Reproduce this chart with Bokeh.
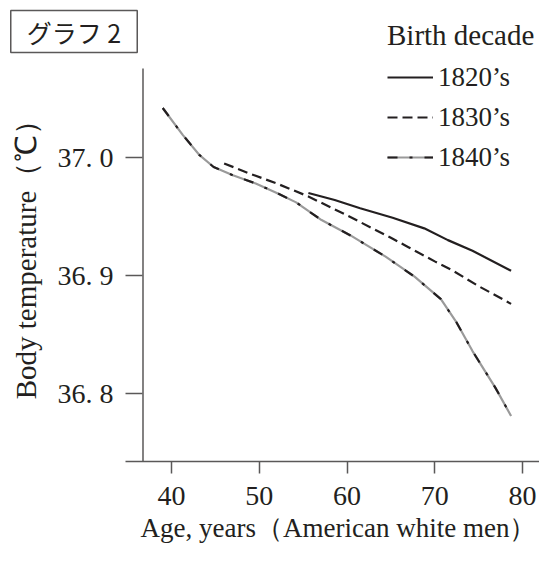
import math
from bokeh.plotting import figure
from bokeh.models import Label, Legend, LegendItem, FixedTicker, Range1d
from bokeh.embed import file_html
from bokeh.resources import INLINE

# ---- data ----
age_1820 = [55.6, 58.6, 61.5, 65.2, 68.8, 71.5, 74.3, 78.7]
temp_1820 = [36.970, 36.964, 36.957, 36.949, 36.940, 36.930, 36.921, 36.904]

age_1830 = [46.0, 48.7, 52.0, 55.6, 60.0, 65.0, 67.0, 70.0, 72.1, 75.0, 78.7]
temp_1830 = [36.995, 36.987, 36.978, 36.967, 36.951, 36.932, 36.924, 36.912, 36.904, 36.891, 36.876]

age_1840 = [39.0, 41.3, 43.2, 44.8, 47.0, 49.6, 52.0, 54.2, 57.1, 60.4, 64.4, 67.7, 70.7, 72.5, 74.3, 76.9, 78.7]
temp_1840 = [37.042, 37.019, 37.002, 36.992, 36.985, 36.978, 36.970, 36.962, 36.947, 36.934, 36.916, 36.899, 36.880, 36.860, 36.836, 36.805, 36.781]

series_labels = ["1820\u2019s", "1830\u2019s", "1840\u2019s"]
legend_title = "Birth decade"
x_ticks = [40, 50, 60, 70, 80]
y_ticks = [36.8, 36.9, 37.0]
y_tick_labels = ["36. 8", "36. 9", "37. 0"]
x_label = "Age, years\uff08American white men\uff09"
y_label = "Body temperature\uff08\u2103\uff09"
chart_tag = "グラフ 2"

# ---- view geometry (data-space extents of the drawing) ----
X_START, X_END = 20.513, 81.937
Y_START, Y_END = 36.6678, 37.1331
Y_AXIS_AT = 34.758      # where the y ticks start
Y_LINE_AT = 36.752      # the vertical axis line
X_AXIS_AT = 36.7424     # the horizontal axis line
Y_LINE_TOP = 37.0754

INK = "#231f20"
AXIS = "#5a5858"
GRAY = "#9a9a9a"
SERIF = "Liberation Serif"

p = figure(width=539, height=549,
           x_range=Range1d(X_START, X_END), y_range=Range1d(Y_START, Y_END),
           output_backend="svg", toolbar_location=None,
           min_border_left=0, min_border_right=0, min_border_top=0, min_border_bottom=0)
p.outline_line_color = None
p.grid.visible = False
p.background_fill_color = "white"
p.border_fill_color = "white"

# x axis
xa = p.xaxis[0]
xa.fixed_location = X_AXIS_AT
xa.ticker = FixedTicker(ticks=x_ticks)
xa.major_tick_out = 12
xa.major_tick_in = 0
xa.minor_tick_out = 0
xa.minor_tick_in = 0
xa.axis_line_color = None
xa.major_tick_line_color = AXIS
xa.major_tick_line_width = 1.5
xa.major_label_standoff = 14
xa.major_label_text_font = SERIF
xa.major_label_text_font_size = "28px"
xa.major_label_text_color = INK

# y axis
ya = p.yaxis[0]
ya.fixed_location = Y_AXIS_AT
ya.ticker = FixedTicker(ticks=y_ticks)
ya.major_label_overrides = {t: s for t, s in zip(y_ticks, y_tick_labels)}
ya.axis_line_color = None
ya.major_tick_in = 17
ya.major_tick_out = 0
ya.minor_tick_out = 0
ya.minor_tick_in = 0
ya.major_tick_line_color = AXIS
ya.major_tick_line_width = 1.5
ya.major_label_standoff = 12
ya.major_label_text_font = SERIF
ya.major_label_text_font_size = "28px"
ya.major_label_text_color = INK

# axis lines
p.segment(x0=[Y_LINE_AT], y0=[X_AXIS_AT], x1=[Y_LINE_AT], y1=[Y_LINE_TOP], line_color=AXIS, line_width=1.5)
p.segment(x0=[Y_AXIS_AT], y0=[X_AXIS_AT], x1=[X_END], y1=[X_AXIS_AT], line_color=AXIS, line_width=1.5)

r1820 = p.line(age_1820, temp_1820, line_color=INK, line_width=2.2)
r1830 = p.line(age_1830, temp_1830, line_color=INK, line_width=2.2, line_dash="10 5")
r1840g = p.line(age_1840, temp_1840, line_color=GRAY, line_width=2.2)
r1840b = p.line(age_1840, temp_1840, line_color=INK, line_width=2.2, line_dash="10 12 3 12")

legend = Legend(items=[LegendItem(label=series_labels[0], renderers=[r1820]),
                       LegendItem(label=series_labels[1], renderers=[r1830]),
                       LegendItem(label=series_labels[2], renderers=[r1840g, r1840b])],
                title=legend_title, location=(387, 372))
legend.title_text_font = SERIF
legend.title_text_font_size = "29px"
legend.title_text_font_style = "normal"
legend.title_text_color = INK
legend.title_standoff = 5
legend.label_text_font = SERIF
legend.label_text_font_size = "27px"
legend.label_text_color = INK
legend.glyph_width = 46
legend.glyph_height = 40
legend.label_standoff = 5
legend.spacing = 0
legend.padding = 0
legend.margin = 0
legend.border_line_color = None
legend.background_fill_alpha = 0
p.add_layout(legend)

# axis titles
p.add_layout(Label(x=23.362, y=36.9195, text=y_label, angle=math.pi / 2,
                   text_align="center", text_baseline="middle",
                   text_font=SERIF, text_font_size="29px", text_color=INK))
p.add_layout(Label(x=59.031, y=36.6856, text=x_label,
                   text_align="center", text_baseline="middle",
                   text_font=SERIF, text_font_size="27px", text_color=INK))

# chart tag in a box
p.add_layout(Label(x=28.889, y=37.1068, text=chart_tag, text_align="center", text_baseline="middle",
                   text_font="Noto Sans CJK JP", text_font_size="25px", text_color=INK,
                   border_line_color=AXIS, border_line_width=1.5, padding=(16, 3),
                   background_fill_color="white"))

open("out.html", "w").write(file_html(p, INLINE))
